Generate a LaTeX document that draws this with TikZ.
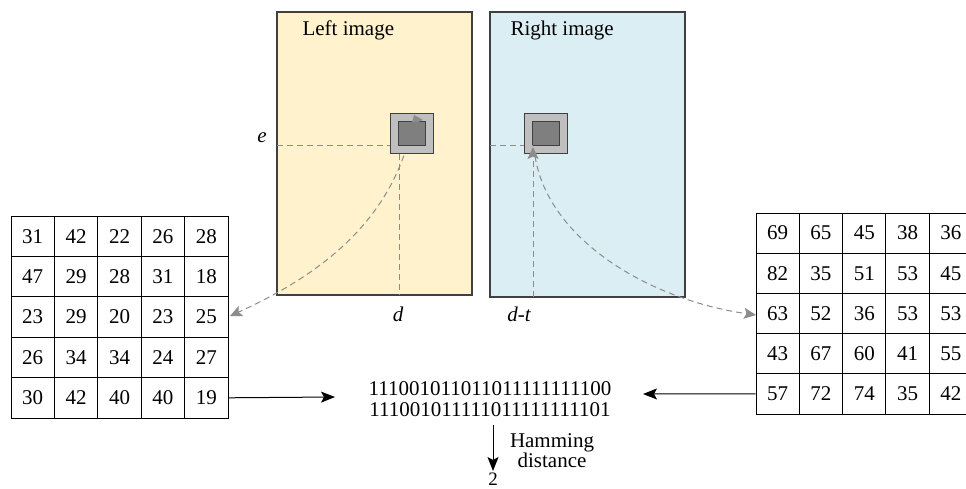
\documentclass[tikz,border=0pt]{standalone}
\usepackage{fontspec}
\setmainfont{Liberation Serif}
\usetikzlibrary{arrows.meta}
\definecolor{leftfill}{HTML}{FFF2CC}
\definecolor{rightfill}{HTML}{DBEEF4}
\definecolor{frame}{HTML}{404040}
\definecolor{dashgray}{HTML}{8C8C8C}
\definecolor{patchout}{HTML}{BFBFBF}
\definecolor{patchin}{HTML}{7F7F7F}
\begin{document}
\begin{tikzpicture}[x=1pt,y=-1pt,
  every node/.style={font=\fontsize{21}{24}\selectfont},
  imgbox/.style={draw=frame,line width=1.1pt},
  outpatch/.style={draw=frame,fill=patchout,line width=1pt},
  inpatch/.style={draw=frame,fill=patchin,line width=1pt},
  guide/.style={draw=dashgray,line width=1pt,dash pattern=on 6pt off 4pt},
  gtip/.style={-{Stealth[length=12pt,width=11pt,inset=2.5pt]}},
  btip/.style={-{Stealth[length=14pt,width=11pt,inset=3pt]},line width=1pt,draw=black},
  lcell/.style={draw=black,line width=0.9pt,minimum width=43.4pt,minimum height=40.4pt,inner sep=0pt},
  rcell/.style={draw=black,line width=0.9pt,minimum width=43.3pt,minimum height=40.2pt,inner sep=0pt},
  lab/.style={font=\fontsize{21}{24}\selectfont\itshape}
]
\useasboundingbox (0,0) rectangle (966,489);

% image frames
\path[imgbox,fill=leftfill] (277,12) rectangle (472,295);
\path[imgbox,fill=rightfill] (490,12) rectangle (685,297);
\node[anchor=west] (lt) at (299,30) {Left image};
\node[anchor=west] (rt) at (507,30) {Right image};

% guide lines
\coordinate (ecor) at (399,146);
\coordinate (lhs) at (277,146);
\coordinate (lbot) at (399,295);
\coordinate (rcor) at (533,146);
\coordinate (rhs) at (490,146);
\coordinate (rbot) at (533,297);
\coordinate (rtip) at (533,147);
\draw[guide] (lhs) -- (ecor) -- (lbot);
\draw[guide] (rhs) -- (rcor);

% curves (under patches)
\coordinate (lstart) at (414,117);
\coordinate (lend) at (230,316);
\coordinate (rstart) at (535,156);
\coordinate (rend) at (756,315);
\draw[guide,gtip] (lstart) .. controls (396,220) and (320,275) .. (lend);

% patches
\path[outpatch] (390,114) rectangle (433,154);
\path[inpatch] (398,122) rectangle (425,146);
\path[outpatch] (524,114) rectangle (567,154);
\path[inpatch] (532,122) rectangle (559,146);
\path[fill=dashgray] (414,115) -- (423,120) -- (418,122) -- (412,122) -- cycle;

\draw[guide] (rcor) -- (532,146);
\draw[guide,gtip] (rbot) -- (rtip);
\draw[guide,gtip] (rstart) .. controls (548,240) and (650,300) .. (rend);

% labels
\node[lab] (e) at (262,138) {e};
\node[lab] (d) at (398,314) {d};
\node[lab] (dt) at (519,314) {d-t};

% left table
\foreach \row [count=\r] in {{31,42,22,26,28},{47,29,28,31,18},{23,29,20,23,25},{26,34,34,24,27},{30,42,40,40,19}}{
  \foreach \v [count=\c] in \row {
    \node[lcell] (L-\r-\c) at ({11+(\c-0.5)*43.4},{216+(\r-0.5)*40.4}) {\v};
  }
}
% right table
\foreach \row [count=\r] in {{69,65,45,38,36},{82,35,51,53,45},{63,52,36,53,53},{43,67,60,41,55},{57,72,74,35,42}}{
  \foreach \v [count=\c] in \row {
    \node[rcell] (R-\r-\c) at ({756+(\c-0.5)*43.3},{213+(\r-0.5)*40.2}) {\v};
  }
}

% binary strings
\node[align=center,inner sep=0pt] (bits) at (490,399) {111001011011011111111100\\[-3pt]111001011111011111111101};
\coordinate (inL) at (335,397);
\coordinate (inR) at (643,394);
\draw[btip] (L-5-5.east) -- (inL);
\draw[btip] (R-5-1.west) -- (inR);

\coordinate (hs) at (493,425);
\coordinate (he) at (493,471);
\draw[btip] (hs) -- (he);
\node[align=center,inner sep=0pt] (ham) at (552,451) {Hamming\\[-4pt]distance};
\node[inner sep=0pt,font=\fontsize{19}{22}\selectfont] (two) at (493,479) {2};
\end{tikzpicture}
\end{document}
